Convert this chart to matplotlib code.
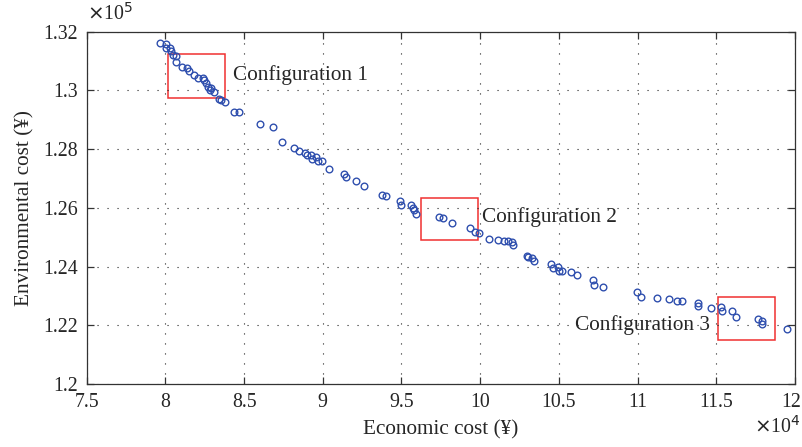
import matplotlib
matplotlib.use("Agg")
import matplotlib.pyplot as plt
from matplotlib.patches import Rectangle
from matplotlib.ticker import FuncFormatter
from matplotlib.transforms import ScaledTranslation

# Economic cost (x10^4 ¥) and environmental cost (x10^5 ¥)
econ = [7.964, 8.002, 8.002, 8.032, 8.038, 8.049, 8.070, 8.070, 8.108, 8.134,
        8.148, 8.180, 8.208, 8.236, 8.244, 8.261, 8.271, 8.288, 8.282, 8.307,
        8.339, 8.352, 8.377, 8.436, 8.466, 8.600, 8.682, 8.740, 8.814, 8.850,
        8.886, 8.900, 8.928, 8.932, 8.956, 8.967, 8.996, 9.038, 9.136, 9.146,
        9.210, 9.263, 9.373, 9.401, 9.490, 9.500, 9.558, 9.571, 9.579, 9.591,
        9.739, 9.765, 9.822, 9.935, 9.967, 9.992, 10.056, 10.115, 10.153, 10.178,
        10.204, 10.210, 10.295, 10.305, 10.331, 10.342, 10.448, 10.464, 10.496, 10.500,
        10.521, 10.577, 10.613, 10.719, 10.723, 10.782, 10.998, 11.022, 11.122, 11.200,
        11.249, 11.284, 11.382, 11.382, 11.465, 11.530, 11.536, 11.600, 11.623, 11.763,
        11.789, 11.789, 11.952]
env = [1.3162, 1.3158, 1.3145, 1.3145, 1.3133, 1.3122, 1.3116, 1.3097, 1.3080, 1.3076,
       1.3065, 1.3051, 1.3044, 1.3044, 1.3036, 1.3025, 1.3012, 1.3008, 1.3002, 1.2993,
       1.2972, 1.2966, 1.2962, 1.2928, 1.2928, 1.2885, 1.2874, 1.2825, 1.2805, 1.2793,
       1.2787, 1.2780, 1.2781, 1.2767, 1.2773, 1.2761, 1.2758, 1.2734, 1.2717, 1.2706,
       1.2693, 1.2675, 1.2643, 1.2642, 1.2625, 1.2610, 1.2611, 1.2601, 1.2591, 1.2580,
       1.2570, 1.2567, 1.2548, 1.2531, 1.2517, 1.2514, 1.2495, 1.2491, 1.2488, 1.2488,
       1.2483, 1.2472, 1.2436, 1.2431, 1.2429, 1.2418, 1.2409, 1.2394, 1.2398, 1.2385,
       1.2385, 1.2382, 1.2372, 1.2354, 1.2338, 1.2330, 1.2313, 1.2296, 1.2292, 1.2290,
       1.2284, 1.2284, 1.2275, 1.2266, 1.2260, 1.2263, 1.2249, 1.2249, 1.2229, 1.2221,
       1.2216, 1.2205, 1.2188]

config_labels = ["Configuration 1", "Configuration 2", "Configuration 3"]
# boxes: (x0, y0, x1, y1)
box_x0 = [8.015, 9.623, 11.513]
box_x1 = [8.380, 9.984, 11.874]
box_y0 = [1.2975, 1.2490, 1.2150]
box_y1 = [1.3125, 1.2635, 1.2296]
label_x = [8.428, 10.011, 11.461]
label_y = [1.3053, 1.2569, 1.2201]
label_ha = ["left", "left", "right"]

xticks = [7.5, 8, 8.5, 9, 9.5, 10, 10.5, 11, 11.5, 12]
yticks = [1.2, 1.22, 1.24, 1.26, 1.28, 1.3, 1.32]

plt.rcParams['font.family'] = ['Liberation Serif', 'DejaVu Serif']
txt = '#262626'

fig = plt.figure(figsize=(8.03, 4.47), dpi=100)
ax = fig.add_axes([0.108, 0.141, 0.882, 0.788])

ax.plot(econ, env, linestyle='none', marker='o', markersize=4.8,
        markerfacecolor='none', markeredgecolor='#2f4fae', markeredgewidth=1.0)

for i in range(3):
    ax.add_patch(Rectangle((box_x0[i], box_y0[i]), box_x1[i] - box_x0[i], box_y1[i] - box_y0[i],
                           fill=False, edgecolor='#f03030', linewidth=1.1))
    ax.text(label_x[i], label_y[i], config_labels[i], ha=label_ha[i], va='center',
            fontsize=15.3, color=txt)

ax.set_xlim(7.5, 12)
ax.set_ylim(1.2, 1.32)
ax.set_xticks(xticks)
ax.set_yticks(yticks)
fmt = FuncFormatter(lambda v, p: ('%g' % round(v, 4)))
ax.xaxis.set_major_formatter(fmt)
ax.yaxis.set_major_formatter(fmt)
ax.tick_params(direction='in', top=True, right=True, length=5, width=0.9,
               labelsize=14.3, colors='#333333', labelcolor=txt, pad=6.5)
for s in ax.spines.values():
    s.set_color('#333333')
    s.set_linewidth(0.9)

ax.grid(True, color='#222222', linewidth=0.8, linestyle=(0, (1, 8)))

ax.set_xlabel('Economic cost (¥)', fontsize=15.3, color=txt, labelpad=6)
ax.set_ylabel('Environmental cost (¥)', fontsize=15.3, color=txt, labelpad=6)

# keep the last x tick label inside the canvas
last = ax.get_xticklabels()[-1]
last.set_transform(last.get_transform() + ScaledTranslation(-4 / 100, 0, fig.dpi_scale_trans))

fig.text(0.108, 0.945, r'$\times$10$^{5}$', fontsize=14.3, color=txt, ha='left', va='bottom')
fig.text(0.997, 0.02, r'$\times$10$^{4}$', fontsize=14.3, color=txt, ha='right', va='bottom')

fig.savefig('out.png', dpi=100)
